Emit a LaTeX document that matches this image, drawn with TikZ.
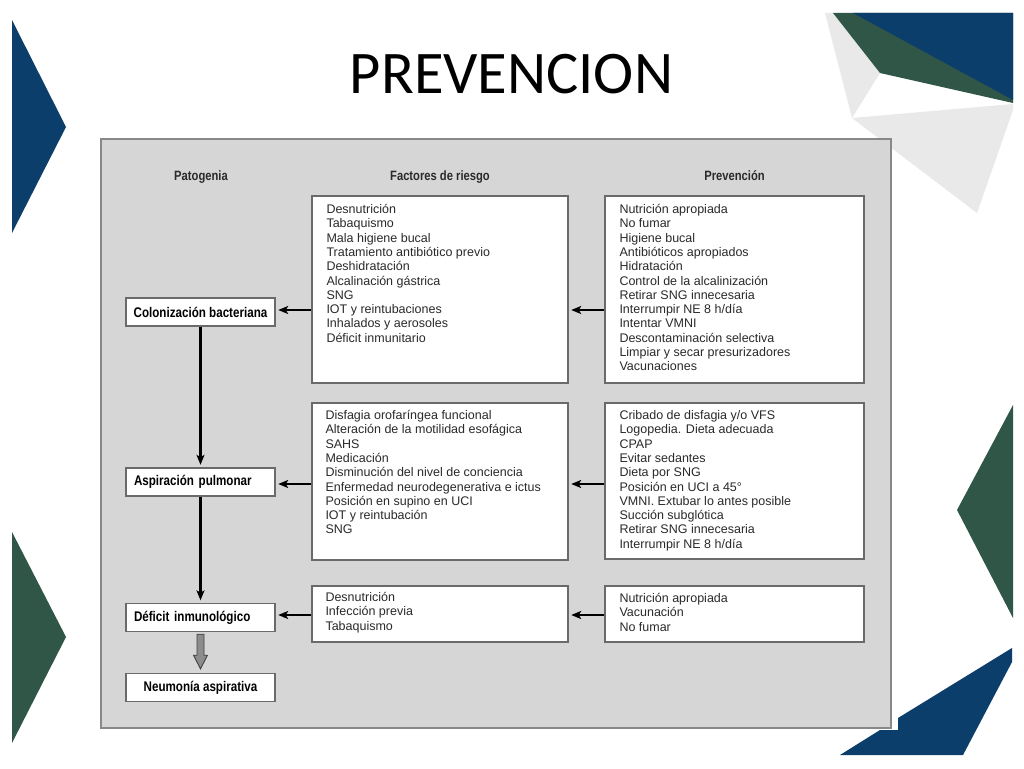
\documentclass[tikz,border=0pt]{standalone}
\usepackage{fontspec}
\setmainfont{Liberation Sans}
\newfontfamily\condfont{Liberation Sans}[FakeStretch=0.83]
\newfontfamily\titlefont{Carlito}
\usetikzlibrary{arrows.meta,calc}
\definecolor{decoblue}{HTML}{0C3E6B}
\definecolor{decogreen}{HTML}{2F5647}
\definecolor{decogray}{HTML}{E9E9E9}
\definecolor{panelgray}{HTML}{D6D6D6}
\definecolor{panelborder}{HTML}{888888}
\definecolor{boxborder}{HTML}{6A6A6A}
\definecolor{txt}{HTML}{2A2A2A}
\begin{document}
\begin{tikzpicture}[x=1pt,y=-1pt,
  stagebox/.style={draw=boxborder, line width=1.4pt, fill=white, minimum width=149pt, minimum height=28pt, inner sep=0pt, text=black, font=\condfont\bfseries\fontsize{14}{15}\selectfont},
  stageleft/.style={stagebox, text width=133pt, align=left, inner xsep=8pt},
  listbox/.style={draw=boxborder, line width=1.4pt, fill=white, inner sep=0pt},
  listtext/.style={anchor=north west, inner sep=0pt, align=left, text=txt, font=\fontsize{12.5}{14.3}\selectfont},
  header/.style={anchor=base, inner sep=0pt, text=txt, font=\condfont\bfseries\fontsize{13.5}{15}\selectfont},
  arr/.style={line width=2.2pt, -{Stealth[length=10pt,width=8pt,inset=2.5pt]}, shorten >=2.5pt},
  blockarrow/.style={draw=black!75, fill=black!45, line width=0.9pt}]
\useasboundingbox (0,0) rectangle (1024,768);
\fill[white] (0,0) rectangle (1024,768);

% decorations
\fill[decoblue] (12,20) -- (66,127) -- (12,233) -- cycle;
\fill[decogreen] (12,532) -- (66,637) -- (12,743) -- cycle;
\fill[decogreen] (1013,405) -- (957,510) -- (1013,618) -- cycle;
\fill[decoblue] (1012,648) -- (1012,662) -- (963,755) -- (840,755) -- (880,730) -- (898,730) -- (898,718) -- cycle;
\fill[decogray] (825,13) -- (833,13) -- (880,73) -- (852,118) -- cycle;
\fill[decogray] (852,118) -- (1013,104) -- (1013,110) -- (977,213) -- (898,153) -- cycle;
\fill[decogreen] (833,13) -- (1013,13) -- (1013,103) -- (880,73) -- cycle;
\fill[decoblue] (853,13) -- (1013,13) -- (1013,100) -- cycle;

% title
\node[anchor=base, inner sep=0pt, font=\titlefont\fontsize{60.5}{66}\selectfont] (title) at (511.5,93) {PREVENCION};

% panel
\draw[fill=panelgray, draw=panelborder, line width=1.5pt] (101,139) rectangle (891,728);

% headers
\node[header] (h1) at (201,180) {Patogenia};
\node[header] (h2) at (440,180) {Factores de riesgo};
\node[header] (h3) at (734.5,180) {Prevención};

% stage boxes
\node[stagebox] (c1) at (200.5,312) {Colonización bacteriana};
\node[stageleft] (a1) at (200.5,482) {Aspiración pulmonar};
\node[stageleft] (d1) at (200.5,617.5) {Déficit inmunológico};
\node[stagebox] (n1) at (200.5,687.5) {Neumonía aspirativa};

% list boxes
\node[listbox, minimum width=256pt, minimum height=187pt] (r1) at (440,289.5) {};
\node[listbox, minimum width=259pt, minimum height=187pt] (p1) at (734.5,289.5) {};
\node[listbox, minimum width=256pt, minimum height=157pt] (r2) at (440,481.5) {};
\node[listbox, minimum width=259pt, minimum height=156pt] (p2) at (734.5,481) {};
\node[listbox, minimum width=256pt, minimum height=56pt] (r3) at (440,614) {};
\node[listbox, minimum width=259pt, minimum height=56pt] (p3) at (734.5,614) {};

\node[listtext] (r1t) at ($(r1.north west)+(15,8)$) {\strut Desnutrición\\Tabaquismo\\Mala higiene bucal\\Tratamiento antibiótico previo\\Deshidratación\\Alcalinación gástrica\\SNG\\IOT y reintubaciones\\Inhalados y aerosoles\\Déficit inmunitario};
\node[listtext] (p1t) at ($(p1.north west)+(15,8)$) {\strut Nutrición apropiada\\No fumar\\Higiene bucal\\Antibióticos apropiados\\Hidratación\\Control de la alcalinización\\Retirar SNG innecesaria\\Interrumpir NE 8 h/día\\Intentar VMNI\\Descontaminación selectiva\\Limpiar y secar presurizadores\\Vacunaciones};
\node[listtext] (r2t) at ($(r2.north west)+(14,7)$) {\strut Disfagia orofaríngea funcional\\Alteración de la motilidad esofágica\\SAHS\\Medicación\\Disminución del nivel de conciencia\\Enfermedad neurodegenerativa e ictus\\Posición en supino en UCI\\IOT y reintubación\\SNG};
\node[listtext] (p2t) at ($(p2.north west)+(15,7)$) {\strut Cribado de disfagia y/o VFS\\Logopedia. Dieta adecuada\\CPAP\\Evitar sedantes\\Dieta por SNG\\Posición en UCI a 45°\\VMNI. Extubar lo antes posible\\Succión subglótica\\Retirar SNG innecesaria\\Interrumpir NE 8 h/día};
\node[listtext] (r3t) at ($(r3.north west)+(14,6)$) {\strut Desnutrición\\Infección previa\\Tabaquismo};
\node[listtext] (p3t) at ($(p3.north west)+(15,7)$) {\strut Nutrición apropiada\\Vacunación\\No fumar};

% connectors
\draw[arr] (p1.west |- 0,310) -- (r1.east |- 0,310);
\draw[arr] (r1.west |- 0,310) -- (c1.east |- 0,310);
\draw[arr] (p2.west |- 0,484) -- (r2.east |- 0,484);
\draw[arr] (r2.west |- 0,484) -- (a1.east |- 0,484);
\draw[arr] (p3.west |- 0,615) -- (r3.east |- 0,615);
\draw[arr] (r3.west |- 0,615) -- (d1.east |- 0,615);
\draw[arr] (c1.south) -- (a1.north);
\draw[arr] (a1.south) -- (d1.north);
\draw[blockarrow] ($(d1.south)+(-3.5,2)$) -- ($(d1.south)+(3.5,2)$) -- ($(d1.south)+(3.5,23)$) -- ($(d1.south)+(7,23)$) -- ($(n1.north)+(0,-4)$) -- ($(d1.south)+(-7,23)$) -- ($(d1.south)+(-3.5,23)$) -- cycle;
\end{tikzpicture}
\end{document}
